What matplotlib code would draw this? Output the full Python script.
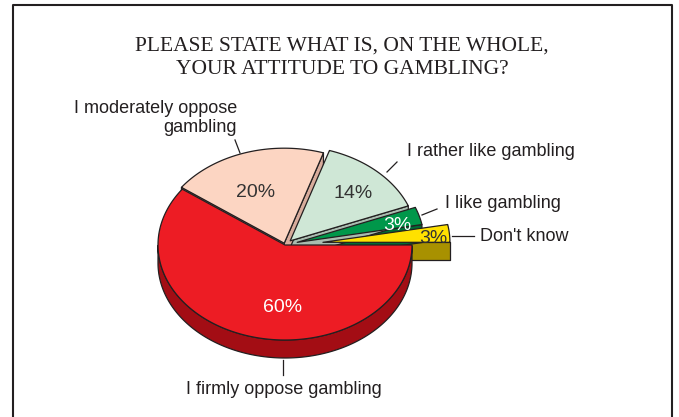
import numpy as np
import matplotlib.pyplot as plt
from matplotlib.patches import Polygon

# survey answers, clockwise from 3 o'clock
answers = [
    "I firmly oppose gambling",
    "I moderately oppose\ngambling",
    "I rather like gambling",
    "I like gambling",
    "Don't know",
]
shares = [60, 20, 14, 3, 3]
pct_labels = ["60%", "20%", "14%", "3%", "3%"]

explode = [0.0, 0.02, 0.06, 0.1, 0.3]
top_colors = ["#ED1C24", "#FCD5C2", "#CFE7D6", "#00974A", "#FFE100"]
side_colors = ["#A30D14", "#D8AC9C", "#A9BCAF", "#006B34", "#A89100"]
pct_colors = ["white", "#333333", "#333333", "white", "#333333"]

# layout in pixel units (y grows downward)
W, H = 679, 417
CX, CY = 285, 245
RX, RY = 127, 95
DEPTH = 18

pct_pos = [(283, 307), (256, 192), (353, 193), (397, 225), (433, 238)]
name_pos = [(284, 390, "center"), (237, 118, "right"), (407, 152, "left"),
            (445, 203, "left"), (480, 236, "left")]
leaders = [((283, 360), (283, 375)), ((240, 153), (235, 140)),
           ((387, 172), (397, 162)), ((422, 215), (437, 209)),
           ((452, 236), (474, 236))]

fig = plt.figure(figsize=(W / 100, H / 100), dpi=100)
ax = fig.add_axes([0, 0, 1, 1])
ax.set_xlim(0, W)
ax.set_ylim(H, 0)
ax.axis("off")


def rim(cx, cy, t):
    return np.column_stack([cx + RX * np.cos(t), cy - RY * np.sin(t)])


edge = dict(edgecolor="#231F20", linewidth=0.9, joinstyle="round")

slices = []
start = 0.0
for i, s in enumerate(shares):
    hi = start
    lo = start - s * 3.6
    start = lo
    lo_r, hi_r = np.radians(lo), np.radians(hi)
    mid = (lo_r + hi_r) / 2
    cx = CX + explode[i] * RX * np.cos(mid)
    cy = CY - explode[i] * RY * np.sin(mid)
    slices.append((lo_r, hi_r, cx, cy))

# side faces, back to front
for i in reversed(range(len(shares))):
    lo, hi, cx, cy = slices[i]
    c = np.array([cx, cy])
    down = np.array([0, DEPTH])
    # radial cut faces
    if np.cos(lo) > 0:
        p = rim(cx, cy, np.array([lo]))[0]
        ax.add_patch(Polygon([c, p, p + down, c + down],
                             facecolor=side_colors[i], **edge))
    if np.cos(hi) < 0:
        p = rim(cx, cy, np.array([hi]))[0]
        ax.add_patch(Polygon([c, p, p + down, c + down],
                             facecolor=side_colors[i], **edge))
    # outer wall on the front half
    t = np.linspace(lo, hi, 400)
    front = t[np.sin(t) < 0]
    if front.size > 1:
        top = rim(cx, cy, front)
        bottom = top + down
        ax.add_patch(Polygon(np.vstack([top, bottom[::-1]]),
                             facecolor=side_colors[i], **edge))

# top faces
for i, (lo, hi, cx, cy) in enumerate(slices):
    t = np.linspace(lo, hi, 300)
    pts = np.vstack([[cx, cy], rim(cx, cy, t)])
    ax.add_patch(Polygon(pts, facecolor=top_colors[i], **edge))

for i in range(len(shares)):
    ax.text(*pct_pos[i], pct_labels[i], ha="center", va="center",
            fontsize=14, color=pct_colors[i], family="Liberation Sans")
    x, y, ha = name_pos[i]
    ax.text(x, y, answers[i], ha=ha, va="center", fontsize=13,
            color="#231F20", family="Liberation Sans", linespacing=1.15)
    (x0, y0), (x1, y1) = leaders[i]
    ax.plot([x0, x1], [y0, y1], color="#231F20", lw=0.9)

ax.text(342, 58, "PLEASE STATE WHAT IS, ON THE WHOLE,\nYOUR ATTITUDE TO GAMBLING?",
        ha="center", va="center", fontsize=15.5, color="#231F20",
        family="Liberation Serif", linespacing=1.34)

# open frame around the chart
ax.plot([13, 13, 672, 672], [H, 5, 5, H], color="#231F20", lw=1.5)

fig.savefig("out.png", dpi=100)
